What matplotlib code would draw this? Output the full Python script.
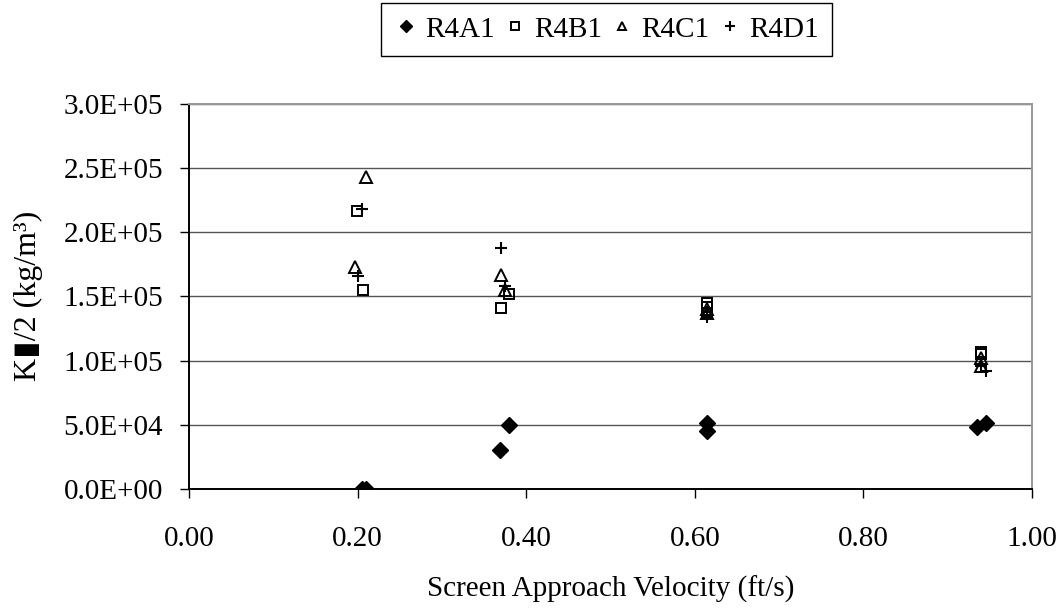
import numpy as np
import matplotlib.pyplot as plt

# screen approach velocity (ft/s) and K values (kg/m^3) for each run
r4a1_x = [0.205, 0.21, 0.369, 0.38, 0.615, 0.615, 0.935, 0.945]
r4a1_y = [0.0, 0.0, 3.0e4, 5.0e4, 5.15e4, 4.5e4, 4.8e4, 5.15e4]

r4b1_x = [0.199, 0.206, 0.37, 0.38, 0.615, 0.615, 0.94, 0.94]
r4b1_y = [2.17e5, 1.55e5, 1.41e5, 1.52e5, 1.45e5, 1.42e5, 1.07e5, 1.05e5]

r4c1_x = [0.21, 0.197, 0.37, 0.375, 0.615, 0.615, 0.94, 0.94]
r4c1_y = [2.43e5, 1.73e5, 1.67e5, 1.55e5, 1.40e5, 1.37e5, 1.02e5, 9.6e4]

r4d1_x = [0.205, 0.2, 0.37, 0.375, 0.615, 0.615, 0.945, 0.94]
r4d1_y = [2.18e5, 1.66e5, 1.88e5, 1.58e5, 1.38e5, 1.34e5, 9.2e4, 9.6e4]

x_ticks = [0.0, 0.2, 0.4, 0.6, 0.8, 1.0]
y_ticks = [0, 5e4, 1e5, 1.5e5, 2e5, 2.5e5, 3e5]
y_tick_labels = ['0.0E+00', '5.0E+04', '1.0E+05', '1.5E+05', '2.0E+05', '2.5E+05', '3.0E+05']

plt.rcParams['font.family'] = ['Liberation Serif', 'DejaVu Sans']

fig = plt.figure(figsize=(10.6, 6.11), dpi=100)
ax = fig.add_axes([0.1783, 0.1997, 0.7953, 0.6301])

ax.plot(r4a1_x, r4a1_y, 'D', ms=8, color='black', label='R4A1', zorder=3)
ax.plot(r4b1_x, r4b1_y, 's', ms=7, mfc='none', mec='black', mew=1.4,
        label='R4B1', zorder=3)
ax.plot(r4c1_x, r4c1_y, '^', ms=8.5, mfc='none', mec='black', mew=1.4,
        label='R4C1', zorder=3)
ax.plot(r4d1_x, r4d1_y, '+', ms=9, color='black', mew=1.5,
        label='R4D1', zorder=3)

ax.set_xlim(0, 1.0)
ax.set_ylim(0, 3e5)
ax.set_xticks(x_ticks)
ax.set_yticks(y_ticks)
ax.set_xticklabels(['%.2f' % v for v in x_ticks])
ax.set_yticklabels(y_tick_labels)
ax.tick_params(labelsize=21, direction='out', length=6.5, width=1)
ax.tick_params(axis='y', pad=12)
ax.tick_params(axis='x', pad=20)

ax.yaxis.grid(True, color='#555555', linewidth=1)
ax.set_axisbelow(True)
for side in ['left', 'bottom']:
    ax.spines[side].set_color('black')
    ax.spines[side].set_linewidth(1.4)
for side in ['top', 'right']:
    ax.spines[side].set_color('#999999')
    ax.spines[side].set_linewidth(1.4)

ax.set_xlabel('Screen Approach Velocity (ft/s)', fontsize=21, labelpad=17)
fig.text(0.027, 1 - 296 / 611, 'K\u25ae/2 (kg/m\u00b3)', fontsize=23,
         rotation=90, ha='center', va='center')

fig.legend(loc='center', bbox_to_anchor=(0.572, 0.952), ncol=4, fontsize=21,
           frameon=True, fancybox=False, edgecolor='black', framealpha=1,
           handlelength=0.8, handletextpad=0.25, columnspacing=0.3,
           borderpad=0.45, markerscale=0.75)

fig.savefig('out.png', dpi=100)
